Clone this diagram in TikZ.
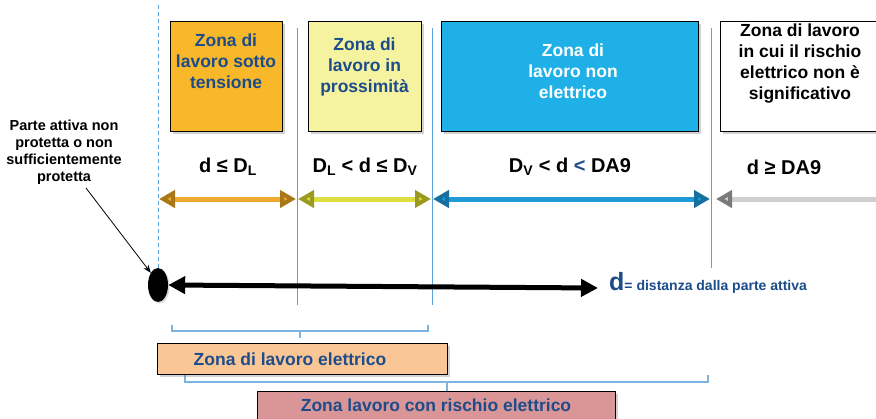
\documentclass[tikz,border=0pt]{standalone}
\usepackage{fontspec}
\setmainfont{Liberation Sans}
\usetikzlibrary{arrows.meta,shapes.geometric,shadows}
\definecolor{txtblue}{HTML}{1D4C8A}
\definecolor{orbox}{HTML}{F8B82A}
\definecolor{yebox}{HTML}{F5F3A0}
\definecolor{blbox}{HTML}{1EB0E6}
\definecolor{peach}{HTML}{FAC696}
\definecolor{pinkbox}{HTML}{DA9696}
\definecolor{vblue}{HTML}{5BA3DC}
\definecolor{orarr}{HTML}{EEAA30}
\definecolor{ordark}{HTML}{A87818}
\definecolor{yearr}{HTML}{DEDE40}
\definecolor{yedark}{HTML}{9A9A20}
\definecolor{blarr}{HTML}{1E9BD7}
\definecolor{bldark}{HTML}{1570A0}
\definecolor{grarr}{HTML}{CFCFCF}
\definecolor{grdark}{HTML}{7A7A7A}
\begin{document}
\begin{tikzpicture}[x=1pt,y=-1pt,
  zonebox/.style={draw=black, line width=1.3pt, anchor=north west, inner sep=0pt,
    drop shadow={shadow xshift=2pt, shadow yshift=-2pt, opacity=0.35}},
  zonetext/.style={font=\fontsize{17.5}{21}\selectfont\bfseries, align=center, text=txtblue, inner sep=0pt},
  lbl/.style={font=\fontsize{20}{22}\selectfont\bfseries, text=black, inner sep=0pt},
  vline/.style={draw=vblue, line width=0.9pt},
  vdash/.style={draw=vblue, line width=0.9pt, dash pattern=on 4pt off 3pt},
  zarrow/.style={line width=5pt},
  bracket/.style={draw=vblue!80, line width=1.6pt},
  btxt/.style={font=\fontsize{17.5}{21}\selectfont\bfseries, text=txtblue, inner sep=0pt}
]
\useasboundingbox (0,0) rectangle (876,418);
\fill[white] (0,0) rectangle (876,418);

% vertical guide lines
\coordinate (v0t) at (158,5);
\coordinate (v0b) at (158,272);
\coordinate (v1t) at (297,28);
\coordinate (v1b) at (297,305);
\coordinate (v2t) at (432,28);
\coordinate (v2b) at (432,305);
\coordinate (v3t) at (711,28);
\coordinate (v3b) at (711,268);
\draw[vdash] (v0t) -- (v0b);
\draw[vline] (v1t) -- (v1b);
\draw[vline] (v2t) -- (v2b);
\draw[vline] (v3t) -- (v3b);

% zone boxes
\node[zonebox, fill=orbox, minimum width=112pt, minimum height=110pt] (b1) at (170,21) {};
\node[zonebox, fill=yebox, minimum width=113pt, minimum height=110pt] (b2) at (308,21) {};
\node[zonebox, fill=blbox, minimum width=257pt, minimum height=110pt] (b3) at (441,21) {};
\node[zonebox, fill=white, minimum width=180pt, minimum height=110pt] (b4) at (720,21) {};

\node[zonetext] (t1) at (226,61) {Zona di\\lavoro sotto\\tensione};
\node[zonetext] (t2) at (364.5,66.5) {Zona di\\lavoro in\\prossimità};
\node[zonetext, text=white] (t3) at (573,71.5) {Zona di\\lavoro non\\elettrico};
\node[zonetext, text=black] (t4) at (800,64) {Zona di lavoro\\in cui il rischio\\elettrico non è\\significativo};

% distance labels
\node[lbl] (l1) at (228,167) {d ≤ D\textsubscript{L}};
\node[lbl] (l2) at (365,167) {D\textsubscript{L} < d ≤ D\textsubscript{V}};
\node[lbl] (l3) at (570,167) {D\textsubscript{V} < d \textcolor{txtblue}{<} DA9};
\node[lbl] (l4) at (784,167) {d ≥ DA9};

% zone arrows
\coordinate (a0) at (159,199);
\coordinate (a1l) at (296,199);
\coordinate (a1r) at (298,199);
\coordinate (a2l) at (431,199);
\coordinate (a2r) at (433,199);
\coordinate (a3l) at (710,199);
\coordinate (a3r) at (716,199);
\coordinate (a4) at (900,199);
\draw[zarrow, draw=orarr, {Triangle[length=16pt,width=17pt,fill=orarr,color=ordark]}-{Triangle[length=16pt,width=17pt,fill=orarr,color=ordark]}] (a0) -- (a1l);
\draw[zarrow, draw=yearr, {Triangle[length=16pt,width=17pt,fill=yearr,color=yedark]}-{Triangle[length=16pt,width=17pt,fill=yearr,color=yedark]}] (a1r) -- (a2l);
\draw[zarrow, draw=blarr, {Triangle[length=16pt,width=17pt,fill=blarr,color=bldark]}-{Triangle[length=16pt,width=17pt,fill=blarr,color=bldark]}] (a2r) -- (a3l);
\draw[zarrow, draw=grarr, {Triangle[length=16pt,width=17pt,fill=grarr,color=grdark]}-] (a3r) -- (a4);

% live part
\node[ellipse, fill=black, minimum width=20pt, minimum height=34pt, inner sep=0pt,
  drop shadow={shadow xshift=1.5pt, shadow yshift=-1.5pt, opacity=0.3}] (ell) at (158,285) {};
\node[anchor=base west, inner sep=0pt] (dlab) at (609,290)
  {\textcolor{txtblue}{\fontsize{25}{25}\selectfont\bfseries d}\textcolor{txtblue}{\fontsize{14}{16}\selectfont\bfseries = distanza dalla parte attiva}};
\coordinate (dend) at (598,288);
\draw[line width=5pt, {Triangle[length=17pt,width=17pt]}-{Triangle[length=17pt,width=17pt]}] (ell.east) -- (dend);

% callout
\node[font=\fontsize{14.5}{17}\selectfont\bfseries, align=center, inner sep=0pt] (ptext) at (64,152)
  {Parte attiva non\\protetta o non\\sufficientemente\\protetta};
\coordinate (pstart) at (86,188);
\draw[line width=0.8pt, -{Stealth[length=8pt,width=6pt]}] (pstart) -- (ell.north west);

% brackets
\draw[bracket] (172,325) -- (172,331) -- (428,331) -- (428,325);
\draw[bracket] (300,331) -- (300,338);
\draw[bracket] (185,375) -- (185,382) -- (708,382) -- (708,375);
\draw[bracket] (447,382) -- (447,391);

% bottom boxes
\node[zonebox, fill=peach, minimum width=290pt, minimum height=31pt] (eb) at (157,343) {};
\node[btxt] (ebt) at (290,359) {Zona di lavoro elettrico};
\node[zonebox, fill=pinkbox, minimum width=358pt, minimum height=40pt] (rb) at (257,391) {};
\node[btxt] (rbt) at (436,405) {Zona lavoro con rischio elettrico};
\end{tikzpicture}
\end{document}
